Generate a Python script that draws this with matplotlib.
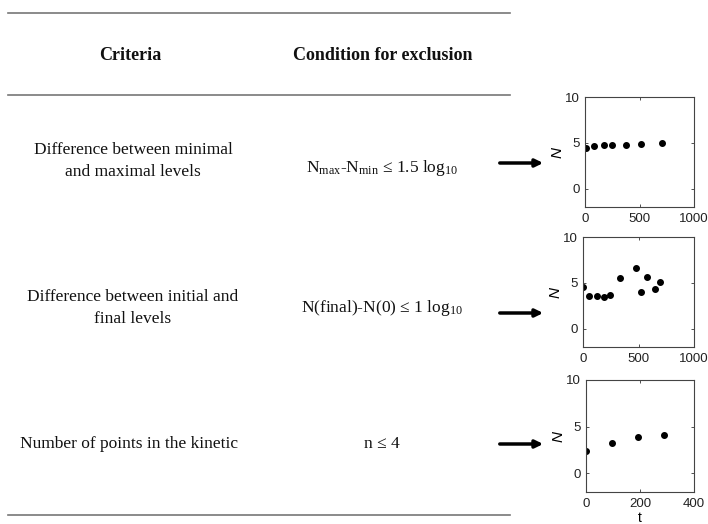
import numpy as np
import matplotlib.pyplot as plt

W, H = 708, 524

headers = ["Criteria", "Condition for exclusion"]
criteria = ["Difference between minimal\nand maximal levels",
            "Difference between initial and\nfinal levels",
            "Number of points in the kinetic"]
conditions = [r"N$_{\mathregular{max}}$-N$_{\mathregular{min}}$ ≤ 1.5 log$_{\mathregular{10}}$",
              r"N(final)-N(0) ≤ 1 log$_{\mathregular{10}}$",
              "n ≤ 4"]

t1 = [9, 82, 177, 250, 372, 512, 707]
n1 = [4.4, 4.67, 4.74, 4.74, 4.74, 4.9, 4.96]
t2 = [0, 51, 123, 190, 244, 334, 479, 527, 575, 648, 693]
n2 = [4.56, 3.58, 3.58, 3.47, 3.69, 5.58, 6.67, 3.98, 5.69, 4.38, 5.04]
t3 = [1, 97, 194, 290]
n3 = [2.43, 3.26, 3.91, 4.09]
xmax = [1000, 1000, 400]
xticks = [[0, 500, 1000], [0, 500, 1000], [0, 200, 400]]

plt.rcParams["mathtext.fontset"] = "custom"
plt.rcParams["mathtext.rm"] = "Liberation Serif"
plt.rcParams["mathtext.it"] = "Liberation Serif:italic"

fig = plt.figure(figsize=(W / 100, H / 100), dpi=100)
bg = fig.add_axes([0, 0, 1, 1])
bg.set_xlim(0, W)
bg.set_ylim(H, 0)
bg.axis("off")

serif = dict(family="Liberation Serif", color="#111111")
for y in [13, 95, 515]:
    bg.plot([8, 510], [y, y], color="#777777", lw=1.2)
bg.text(130, 55, headers[0], ha="center", va="center", fontweight="bold",
        fontsize=13, **serif)
bg.text(383, 55, headers[1], ha="center", va="center", fontweight="bold",
        fontsize=13, **serif)

row_x = [133, 133, 129]
row_y = [161, 308, 444]
cond_y = [168, 308, 444]
arrow_y = [163, 313, 444]
for i in range(3):
    bg.text(row_x[i], row_y[i], criteria[i], ha="center", va="center",
            linespacing=1.5, fontsize=12.5, **serif)
    bg.text(382, cond_y[i], conditions[i], ha="center", va="center",
            fontsize=12.5, **serif)
    bg.annotate("", xy=(546, arrow_y[i]), xytext=(497, arrow_y[i]),
                arrowprops=dict(arrowstyle="-|>,head_length=0.45,head_width=0.22",
                                color="black", lw=2.5))

boxes = [[585, 97, 694, 207], [583, 237, 694, 347], [586, 380, 694, 492]]
data = [(t1, n1), (t2, n2), (t3, n3)]
for i, (b, (t, n)) in enumerate(zip(boxes, data)):
    ax = fig.add_axes([b[0] / W, 1 - b[3] / H, (b[2] - b[0]) / W, (b[3] - b[1]) / H])
    ax.plot(t, n, "o", color="black", ms=4)
    ax.set_xlim(0, xmax[i])
    ax.set_ylim(-2, 10)
    ax.set_xticks(xticks[i])
    ax.set_yticks([0, 5, 10])
    ax.tick_params(direction="in", length=2, labelsize=9.5, top=True, right=True,
                   colors="#333333", labelcolor="#222222", width=0.6, pad=4)
    for lab in ax.get_xticklabels() + ax.get_yticklabels():
        lab.set_family("Liberation Sans")
    for s in ax.spines.values():
        s.set_color("#444444")
        s.set_linewidth(0.8)
    ax.set_ylabel("N", family="Liberation Sans", style="italic", fontsize=11, labelpad=0)
    if i == 2:
        ax.set_xlabel("t", family="Liberation Sans", fontsize=10, labelpad=1)

plt.savefig("out.png", dpi=100)
plt.close()
